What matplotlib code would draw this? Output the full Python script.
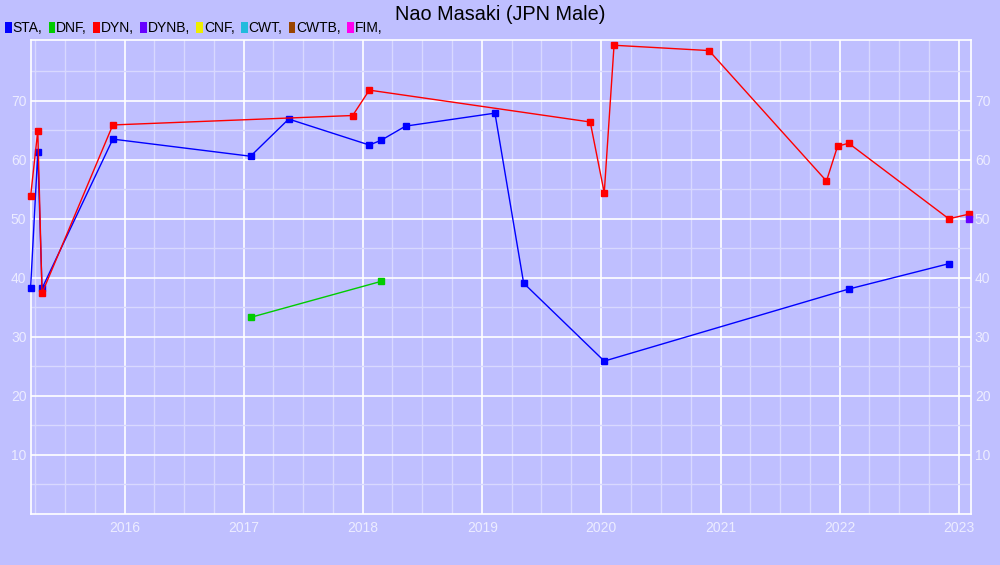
import matplotlib
matplotlib.use("Agg")
import matplotlib.pyplot as plt
import matplotlib.dates as mdates
from matplotlib.patches import Rectangle
import pandas as pd

title = "Nao Masaki (JPN Male)"
legend_labels = ["STA", "DNF", "DYN", "DYNB", "CNF", "CWT", "CWTB", "FIM"]
legend_colors = ["#0000ff", "#00cc00", "#ff0000", "#6600ff", "#eeee00", "#22bbdd", "#994400", "#ff00ee"]

sta_dates = ["2015-03-19", "2015-04-10", "2015-04-23", "2015-11-26", "2017-01-21", "2017-05-18",
             "2018-01-20", "2018-02-25", "2018-05-11", "2019-02-09", "2019-05-08", "2020-01-10",
             "2022-01-28", "2022-12-01"]
sta_values = [38.3, 61.3, 38.2, 63.5, 60.6, 66.9, 62.5, 63.3, 65.7, 67.9, 39.1, 25.9, 38.1, 42.4]

dnf_dates = ["2017-01-21", "2018-02-25"]
dnf_values = [33.3, 39.4]

dyn_dates = ["2015-03-19", "2015-04-10", "2015-04-23", "2015-11-26", "2017-11-30", "2018-01-20",
             "2019-11-28", "2020-01-10", "2020-02-09", "2020-11-26", "2021-11-21", "2021-12-25",
             "2022-01-28", "2022-12-01", "2023-02-01"]
dyn_values = [53.8, 64.9, 37.4, 65.9, 67.5, 71.8, 66.4, 54.4, 79.4, 78.5, 56.4, 62.3, 62.8, 50.0, 50.8]

dynb_dates = ["2023-02-01"]
dynb_values = [50.0]

series = [
    (sta_dates, sta_values, legend_colors[0]),
    (dnf_dates, dnf_values, legend_colors[1]),
    (dyn_dates, dyn_values, legend_colors[2]),
    (dynb_dates, dynb_values, legend_colors[3]),
]

bg = "#bfbfff"
fig = plt.figure(figsize=(10, 5.65), dpi=100, facecolor=bg)
ax = fig.add_axes([0.0306, 0.0903, 0.9401, 0.839])
ax.set_facecolor(bg)

for d, v, c in series:
    ax.plot(pd.to_datetime(d), v, color=c, lw=1.0, marker="s", ms=4.3, mec=c, mfc=c, zorder=3,
            clip_on=False)

ax.set_xlim(pd.Timestamp("2015-03-19"), pd.Timestamp("2023-02-06"))
ax.set_ylim(0, 80.3)

ax.xaxis.set_major_locator(mdates.YearLocator())
ax.xaxis.set_major_formatter(mdates.DateFormatter("%Y"))
ax.xaxis.set_minor_locator(mdates.MonthLocator(bymonth=[4, 7, 10]))
ax.set_yticks([10, 20, 30, 40, 50, 60, 70])
ax.set_yticks([5, 15, 25, 35, 45, 55, 65, 75], minor=True)

ax.grid(True, which="major", color="white", lw=1.2, zorder=0)
ax.grid(True, which="minor", color="#d8d8ff", lw=1.0, zorder=0)
ax.set_axisbelow(True)

tick_color = "#ececff"
ax.tick_params(axis="both", which="both", length=0, labelsize=10, colors=tick_color)
ax.tick_params(axis="y", labelright=True, pad=3)
ax.tick_params(axis="x", pad=5)
for lab in ax.get_xticklabels() + ax.get_yticklabels():
    lab.set_fontfamily("Liberation Sans")
for s in ax.spines.values():
    s.set_color("white")
    s.set_linewidth(1.2)

fig.text(0.5, (565 - 20) / 565, title, ha="center", va="baseline", fontsize=14.3, color="black",
         fontfamily="Liberation Sans")

# legend row
fig.canvas.draw()
renderer = fig.canvas.get_renderer()
x = 5
ycen = 565 - 28
for lab, col in zip(legend_labels, legend_colors):
    fig.patches.append(Rectangle((x, ycen - 5), 6.5, 11, transform=None, facecolor=col,
                                 edgecolor="none"))
    t = fig.text((x + 7.5) / 1000, ycen / 565, lab + ",", ha="left", va="center",
                 fontsize=10, color="black", fontfamily="Liberation Sans")
    bb = t.get_window_extent(renderer)
    x = bb.x1 + 6.4

fig.savefig("out.png", dpi=100, facecolor=bg)
